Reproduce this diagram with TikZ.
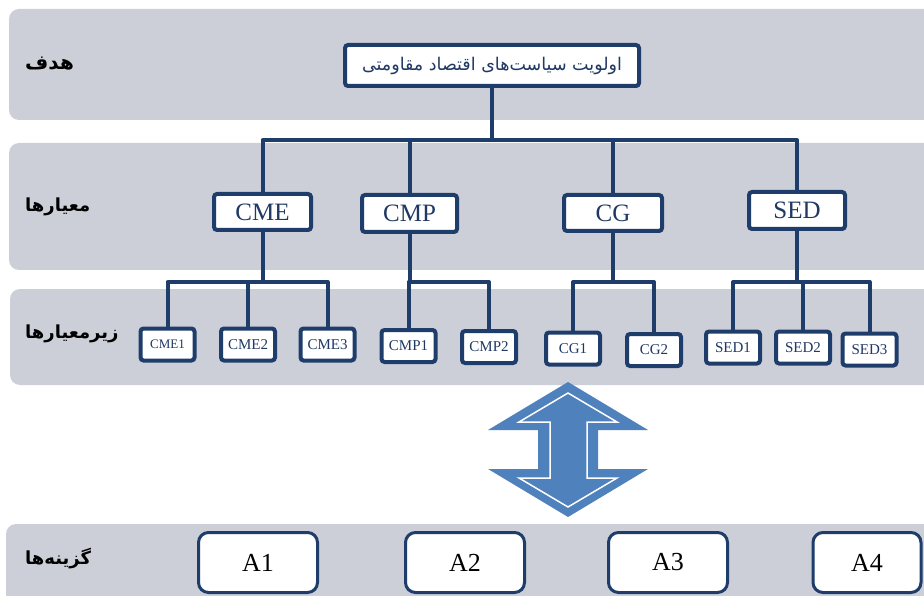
\documentclass[tikz,border=0pt]{standalone}
\usepackage{fontspec}
\setmainfont{Liberation Serif}
\newfontfamily\fa[Script=Arabic]{DejaVu Sans}
\TeXXeTstate=1
\definecolor{bandgray}{RGB}{205,207,216}
\definecolor{navy}{RGB}{31,61,106}
\definecolor{navytext}{RGB}{31,56,100}
\definecolor{arrowblue}{RGB}{79,129,189}
\tikzset{
  band/.style={fill=bandgray, rounded corners=10pt},
  conn/.style={draw=navy, line width=4pt, line join=round},
  critbox/.style={draw=navy, line width=4pt, fill=white, rounded corners=3pt, text=navytext, font=\fontsize{25}{28}\selectfont, inner sep=0pt},
  subbox/.style={draw=navy, line width=4pt, fill=white, rounded corners=3pt, text=navytext, font=\fontsize{15}{17}\selectfont, inner sep=0pt, minimum width=54pt, minimum height=32pt},
  altbox/.style={draw=navy, line width=3pt, fill=white, rounded corners=10pt, text=black, font=\fontsize{26}{28}\selectfont, inner sep=0pt, minimum width=119pt, minimum height=60pt},
  rowlabel/.style={anchor=west, font=\fa\bfseries\fontsize{18}{21}\selectfont, text=black, inner sep=0pt},
}
\begin{document}
\begin{tikzpicture}[x=1pt,y=-1pt]
\useasboundingbox (0,0) rectangle (924,596);
\clip (0,0) rectangle (924,596);
% bands
\fill[band] (9,9) rectangle (960,120);
\fill[band] (9,143) rectangle (960,270);
\fill[band] (10,289) rectangle (960,385);
\fill[band] (6,524) rectangle (960,640);
% row labels
\node[rowlabel, font=\fa\bfseries\fontsize{20}{23}\selectfont] (l1) at (25,64) {\beginR هدف\endR};
\node[rowlabel] (l2) at (25,207) {\beginR معیارها\endR};
\node[rowlabel] (l3) at (25,334) {\beginR زیرمعیارها\endR};
\node[rowlabel] (l4) at (25,559) {\beginR گزینه‌ها\endR};
% goal
\node[draw=navy, line width=4pt, fill=white, rounded corners=3pt, text=navytext,
      font=\fa\fontsize{17.5}{20}\selectfont, minimum width=294pt, minimum height=41pt, inner sep=0pt]
      (goal) at (492,65.5) {\beginR اولویت سیاست‌های اقتصاد مقاومتی\endR};
% criteria
\node[critbox, minimum width=97pt, minimum height=36pt] (cme) at (262.5,212) {CME};
\node[critbox, minimum width=95pt, minimum height=37pt] (cmp) at (409.5,213.5) {CMP};
\node[critbox, minimum width=98pt, minimum height=36pt] (cg) at (613,213) {CG};
\node[critbox, minimum width=96pt, minimum height=37pt] (sed) at (797,210.5) {SED};
% sub criteria
\node[subbox, font=\fontsize{13}{15}\selectfont] (cme1) at (167.5,344.5) {CME1};
\node[subbox] (cme2) at (248,344.5) {CME2};
\node[subbox] (cme3) at (327.5,344.5) {CME3};
\node[subbox] (cmp1) at (408.5,346) {CMP1};
\node[subbox] (cmp2) at (489,347) {CMP2};
\node[subbox] (cg1) at (573,348.5) {CG1};
\node[subbox] (cg2) at (654,350) {CG2};
\node[subbox] (sed1) at (733,347.5) {SED1};
\node[subbox] (sed2) at (803,347.5) {SED2};
\node[subbox] (sed3) at (869.5,349.5) {SED3};
% connectors top
\coordinate (bus) at (492,140);
\coordinate (sub) at (0,282);
\draw[conn] (goal.south) -- (bus);
\draw[conn] (cme.north) |- (sed.north |- bus) -- (sed.north);
\draw[conn] (cmp.north) -- (cmp.north |- bus);
\draw[conn] (cg.north) -- (cg.north |- bus);
% connectors sub
\draw[conn] (cme.south) -- (cme.south |- sub);
\draw[conn] (cme1.north) |- (cme3.north |- sub) -- (cme3.north);
\draw[conn] (cme2.north) -- (cme2.north |- sub);
\draw[conn] (cmp.south) -- (cmp.south |- sub);
\draw[conn] (cmp1.north) |- (cmp2.north |- sub) -- (cmp2.north);
\draw[conn] (cg.south) -- (cg.south |- sub);
\draw[conn] (cg1.north) |- (cg2.north |- sub) -- (cg2.north);
\draw[conn] (sed.south) -- (sed.south |- sub);
\draw[conn] (sed1.north) |- (sed3.north |- sub) -- (sed3.north);
\draw[conn] (sed2.north) -- (sed2.north |- sub);
% double arrow
\fill[arrowblue] (568,382) -- (488,430) -- (538,430) -- (538,469) -- (488,469) -- (568,517)
   -- (648,469) -- (598,469) -- (598,430) -- (648,430) -- cycle;
\draw[white, line width=1.5pt, fill=arrowblue, line join=miter] (568,393) -- (519,422) -- (550,422) -- (550,478) -- (519,478) -- (568,507)
   -- (617,478) -- (587,478) -- (587,422) -- (617,422) -- cycle;
% alternatives
\node[altbox] (a1) at (258,562.5) {A1};
\node[altbox] (a2) at (465,562.5) {A2};
\node[altbox] (a3) at (668,562.5) {A3};
\node[altbox, minimum width=108pt] (a4) at (867,562.5) {A4};
\end{tikzpicture}
\end{document}
